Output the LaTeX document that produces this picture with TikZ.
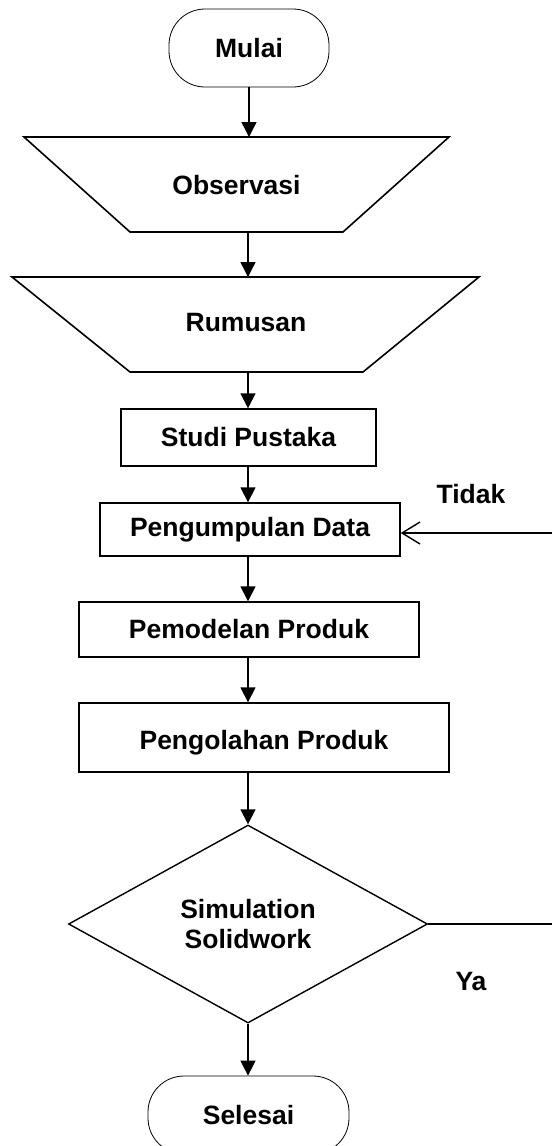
\documentclass[tikz,border=0pt]{standalone}
\usepackage{fontspec}
\setmainfont{Liberation Sans}
\usetikzlibrary{arrows.meta,shapes.geometric}
\begin{document}
\begin{tikzpicture}[x=1pt,y=-1pt,
  lbl/.style={font=\fontsize{26.5}{30}\selectfont\bfseries, inner sep=0pt, align=center},
  box/.style={draw, line width=1.4pt, lbl},
  term/.style={draw, line width=0.8pt, rounded corners=36pt, lbl},
  trap/.style={draw, line width=1.6pt, line join=miter},
  arr/.style={line width=1.4pt, -{Triangle[length=15pt,width=15pt]}},
  openarr/.style={line width=1.4pt, -{Straight Barb[length=18pt,width=22pt,line width=1.4pt]}},
  plain/.style={line width=1.4pt}]
\useasboundingbox (0,0) rectangle (552,1146);
\clip (0,0) rectangle (552,1146);

% terminal start
\node[term, minimum width=160pt, minimum height=78pt] (mulai) at (249,48) {Mulai};

% Observasi trapezoid
\coordinate (o1) at (24,137);
\coordinate (o2) at (449,137);
\coordinate (o3) at (343,232);
\coordinate (o4) at (130,232);
\draw[trap] (o1) -- (o2) -- (o3) -- (o4) -- cycle;
\node[lbl] (obs) at (236.5,185) {Observasi};

% Rumusan trapezoid
\coordinate (r1) at (12,277);
\coordinate (r2) at (479,277);
\coordinate (r3) at (363,372);
\coordinate (r4) at (130,372);
\draw[trap] (r1) -- (r2) -- (r3) -- (r4) -- cycle;
\node[lbl] (rum) at (246,323) {Rumusan};

\coordinate (ax) at (248,0);

% process boxes
\node[box, minimum width=255pt, minimum height=57pt] (sp) at (248.5,437.5) {Studi Pustaka};
\node[box, minimum width=300pt, minimum height=53pt] (pd) at (250,529.5) {Pengumpulan Data};
\node[box, minimum width=340pt, minimum height=55pt] (pm) at (249,629.5) {Pemodelan Produk};
\node[box, minimum width=370pt, minimum height=69pt] (po) at (264,737.5) {};
\node[lbl] (potext) at (264,743) {Pengolahan Produk};

% decision
\node[diamond, draw, line width=1.4pt, lbl, minimum width=359pt, minimum height=198pt] (dec) at (248,924) {Simulation\\Solidwork};

% terminal end
\node[term, minimum width=201pt, minimum height=78pt] (sel) at (248.5,1115) {Selesai};

% labels
\node[lbl] (tidak) at (471,494) {Tidak};
\node[lbl] (ya) at (471,982) {Ya};

% connectors
\draw[arr] (mulai.south) -- (mulai.south |- o1);
\draw[arr] (ax |- o3) -- (ax |- r1);
\draw[arr] (ax |- r3) -- (ax |- sp.north);
\draw[arr] (ax |- sp.south) -- (ax |- pd.north);
\draw[arr] (ax |- pd.south) -- (ax |- pm.north);
\draw[arr] (ax |- pm.south) -- (ax |- po.north);
\draw[arr] (dec.north |- po.south) -- (dec.north);
\draw[arr] (dec.south) -- (dec.south |- sel.north);

\coordinate (tin) at (552,533);
\draw[openarr] (tin) -- (tin -| pd.east);
\coordinate (yout) at (552,924);
\draw[plain] (dec.east) -- (yout);
\end{tikzpicture}
\end{document}
